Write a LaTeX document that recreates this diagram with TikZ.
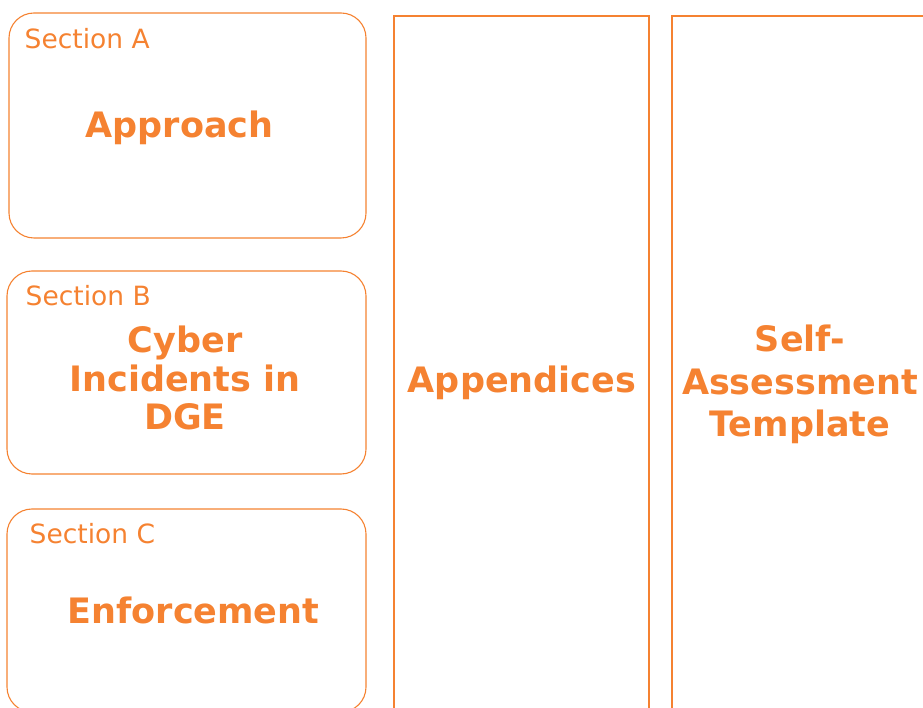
\documentclass[tikz,border=0pt]{standalone}
\usepackage{fontspec}
\setmainfont{DejaVu Sans}
\definecolor{dgeorange}{RGB}{245,130,49}
\begin{document}
\begin{tikzpicture}[x=1pt,y=1pt,
    secbox/.style={draw=dgeorange, line width=1.1pt, rounded corners=25pt, inner sep=0pt},
    colbox/.style={draw=dgeorange, line width=1.3pt, inner sep=0pt, minimum width=255pt, minimum height=714pt},
    seclabel/.style={text=dgeorange, inner sep=0pt, anchor=base west, font=\fontsize{26.5}{30}\selectfont},
    title/.style={text=dgeorange, inner sep=0pt, anchor=base, align=center, font=\bfseries\fontsize{35}{#1}\selectfont},
    title/.default=40]
    \useasboundingbox (0,0) rectangle (923,707);
    \clip (0,0) rectangle (923,707);

    \node[secbox, minimum width=357pt, minimum height=225pt] (boxA) at (187.5,581.5) {};
    \node[secbox, minimum width=359pt, minimum height=203pt] (boxB) at (186.5,334.5) {};
    \node[secbox, minimum width=359pt, minimum height=203pt] (boxC) at (186.5,96.5) {};
    \node[colbox] (appx) at (521.5,334) {};
    \node[colbox] (self) at (799.5,334) {};

    \node[seclabel] (labA) at (24.5,658) {Section A};
    \node[seclabel] (labB) at (25.5,401) {Section B};
    \node[seclabel] (labC) at (29.5,164) {Section C};

    % multi-line titles sit on the baseline of their last line
    \node[title] (approach) at (179.5,569) {Approach};
    \node[title=38.5] (cyber) at (185,277) {Cyber\\Incidents in\\DGE};
    \node[title] (enforce) at (193.5,84) {Enforcement};
    \node[title] (appendices) at (522,314) {Appendices};
    \node[title=42.5] (selfassess) at (800,270) {Self-\\Assessment\\Template};
\end{tikzpicture}
\end{document}
